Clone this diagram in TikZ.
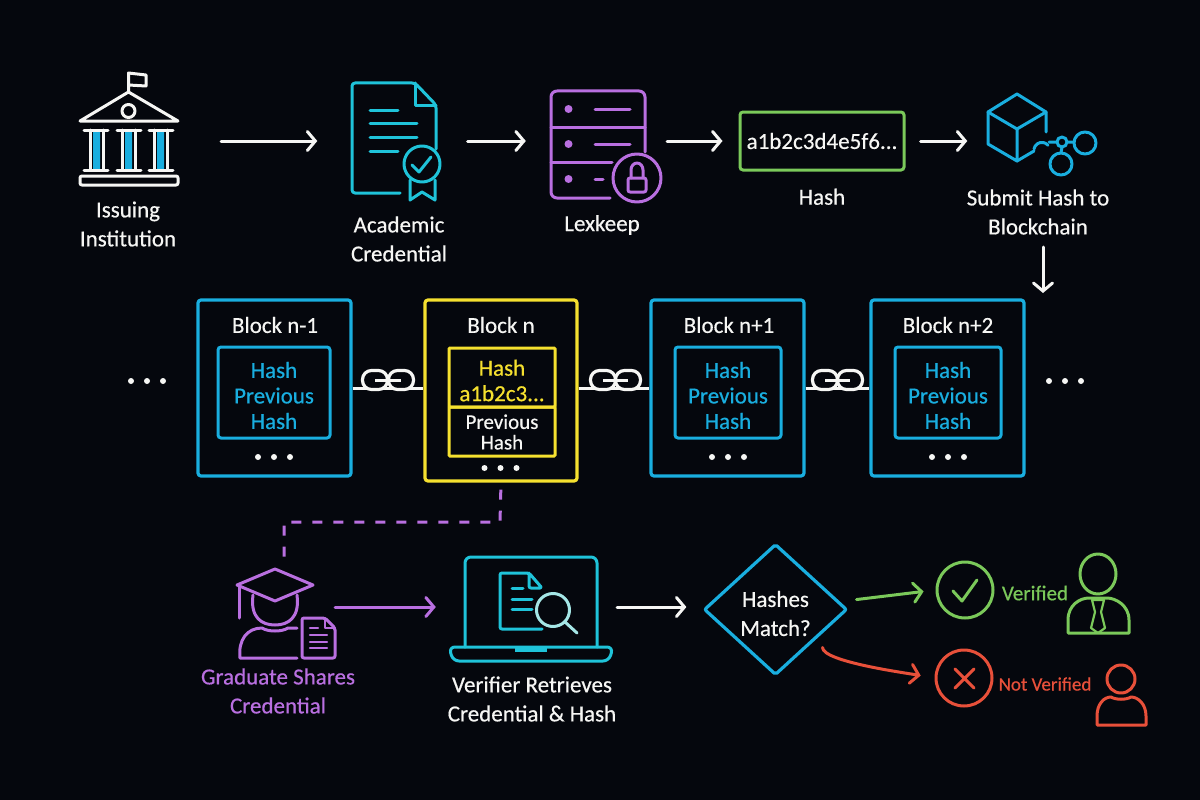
\documentclass[tikz,border=0pt]{standalone}
\usepackage{fontspec}
\setmainfont[FakeBold=0.5]{Carlito}
\usetikzlibrary{arrows.meta,positioning,shapes.geometric}

\definecolor{bgdark}{HTML}{05070D}
\definecolor{inkwhite}{HTML}{F6F6F4}
\definecolor{chainblue}{HTML}{19AEDF}
\definecolor{docteal}{HTML}{1FC3D9}
\definecolor{lensteal}{HTML}{A5E6E6}
\definecolor{lexpurple}{HTML}{B96FE0}
\definecolor{hashgreen}{HTML}{7BC95A}
\definecolor{blockyellow}{HTML}{F5E02F}
\definecolor{failred}{HTML}{E8503A}

\tikzset{
    >={Straight Barb[length=8pt,width=19pt,line cap=round]},
    label text/.style={text=inkwhite,font=\fontsize{23}{29}\selectfont,align=center,inner sep=0pt},
    icon box/.style={inner sep=0pt,minimum width=#1},
    icon/.style={line width=3pt,line cap=round,line join=round},
    flow/.style={->,line width=3pt,inkwhite,line cap=round},
    block/.style={draw=chainblue,line width=3.2pt,rounded corners=3pt,inner sep=0pt,minimum width=153pt,minimum height=176pt},
    inner block/.style={block,line width=3pt,minimum width=106pt,minimum height=91pt},
    inner text/.style={label text,text=chainblue,font=\fontsize{23}{25.5}\selectfont},
    link line/.style={line width=3pt,inkwhite},
    chain ring/.style={draw=inkwhite,fill=bgdark,line width=3.2pt,rounded corners=9pt,minimum width=25pt,minimum height=19pt,inner sep=0pt}
}

\newcommand{\threedots}[3]{%
    \fill[#3] (#1-16,#2) circle (3) (#1,#2) circle (3) (#1+16,#2) circle (3);}

\begin{document}
\begin{tikzpicture}[x=1pt,y=-1pt]
    \fill[bgdark] (0,0) rectangle (1200,800);
    \useasboundingbox (0,0) rectangle (1200,800);

    % top row
    \node[icon box=100pt] (institution) at (129,141) {};
    \node[icon box=85pt] (credential) at (394,141) {};
    \node[icon box=94pt] (lexkeep) at (598,141) {};
    \node[draw=hashgreen,line width=3pt,rounded corners=3pt,minimum width=164pt,minimum height=58pt,inner sep=0pt,
        text=inkwhite,font=\fontsize{23}{26}\selectfont] (hashval) at (822,141) {a1b2c3d4e5f6...};
    \node[icon box=105pt] (submit) at (1038,141) {};

    \node[label text] (institution_txt) at (128,224) {Issuing\\Institution};
    \node[label text] (credential_txt) at (399,239) {Academic\\Credential};
    \node[label text] (lexkeep_txt) at (602,225) {Lexkeep};
    \node[label text,below=17pt of hashval] (hash_txt) {Hash};
    \node[label text] (submit_txt) at (1038,212) {Submit Hash to\\Blockchain};

    % institution
    \draw[icon,inkwhite] (128.5,92) -- (128.5,73) -- (146,75) -- (146,86) -- (128.5,85);
    \draw[icon,inkwhite] (128.5,92) -- (80,121) -- (178,121) -- cycle;
    \draw[icon,inkwhite] (128.5,111) circle (6.5);
    \fill[chainblue] (93,131) rectangle (100,169) (125,131) rectangle (132,169) (157,131) rectangle (164,169);
    \draw[icon,inkwhite] (84,130) -- (108,130) (84,170) -- (108,170) (90,130) -- (90,170) (103,130) -- (103,170);
    \draw[icon,inkwhite] (117,130) -- (141,130) (117,170) -- (141,170) (122,130) -- (122,170) (135,130) -- (135,170);
    \draw[icon,inkwhite] (149,130) -- (173,130) (149,170) -- (173,170) (154,130) -- (154,170) (167,130) -- (167,170);
    \draw[icon,inkwhite,rounded corners=2pt] (80,176) rectangle (178,185);

    % credential
    \draw[icon,docteal,rounded corners=3pt] (400,193) -- (352,193) -- (352,83) -- (415,83) -- (436,105) -- (436,149);
    \draw[icon,docteal] (415,83) -- (415,105) -- (436,105);
    \draw[icon,docteal] (370,110) -- (398,110) (370,123) -- (417,123) (370,137) -- (417,137) (370,151) -- (398,151);
    \draw[icon,docteal] (422,164) circle (18);
    \draw[icon,docteal] (412,165) -- (419,172) -- (431,157);
    \draw[icon,docteal] (410,180) -- (410,200) -- (422,192) -- (435,200) -- (435,180);

    % lexkeep
    \draw[icon,lexpurple,rounded corners=6pt] (610,198) -- (551,198) -- (551,91) -- (645,91) -- (645,152);
    \draw[icon,lexpurple] (551,127) -- (645,127) (551,162) -- (612,162);
    \fill[lexpurple] (568.5,109) circle (4) (568.5,144) circle (4) (568.5,179) circle (4);
    \draw[icon,lexpurple] (595,109) -- (630,109) (595,144) -- (630,144) (595,179) -- (603,179);
    \draw[icon,lexpurple] (637,178) circle (24);
    \draw[icon,lexpurple,rounded corners=2pt] (628,178) rectangle (646,192);
    \draw[icon,lexpurple] (631,178) -- (631,170) arc[start angle=180,end angle=360,x radius=6,y radius=7] -- (643,178);

    % blockchain cube and nodes
    \draw[icon,chainblue] (1017,94) -- (1046,112) -- (1017,129) -- (988,112) -- cycle;
    \draw[icon,chainblue] (988,112) -- (988,144) -- (1017,161) -- (1017,129);
    \draw[icon,chainblue] (1046,112) -- (1046,132) (1017,161) -- (1034,151);
    \draw[icon,chainblue] (1034,149) arc[start angle=190,end angle=320,radius=8];
    \draw[icon,chainblue] (1062,142) circle (5) (1085,143) circle (11) (1061,164) circle (11);
    \draw[icon,chainblue] (1049,142) -- (1057,142) (1067,142) -- (1074,142) (1062,147) -- (1061,153);

    % middle row
    \node[block] (block_a) at (274.5,388) {};
    \node[block,draw=blockyellow,minimum width=152pt,minimum height=181pt] (block_n) at (501,390.5) {};
    \node[block] (block_b) at (727.5,388) {};
    \node[block] (block_c) at (947.5,388) {};

    \node[label text] (block_a_txt) at (275,325) {Block n-1};
    \node[label text] (block_n_txt) at (501,325) {Block n};
    \node[label text] (block_b_txt) at (729,325) {Block n+1};
    \node[label text] (block_c_txt) at (948,325) {Block n+2};

    \node[inner block,minimum width=112pt] (inner_a) at (274,392.5) {};
    \node[inner block] (inner_b) at (728,392.5) {};
    \node[inner block] (inner_c) at (948,392.5) {};
    \node[inner block,draw=blockyellow,rounded corners=1pt,minimum height=59pt] (inner_n) at (502,377.5) {};
    \node[inner block,draw=blockyellow,rounded corners=1pt,minimum height=49pt,below=-3pt of inner_n] (inner_prev) {};

    \node[inner text] (inner_a_txt) at (274,395.5) {Hash\\Previous\\Hash};
    \node[inner text] (inner_b_txt) at (728,395.5) {Hash\\Previous\\Hash};
    \node[inner text] (inner_c_txt) at (948,395.5) {Hash\\Previous\\Hash};
    \node[inner text,text=blockyellow] (inner_n_txt) at (502,380.5) {Hash\\a1b2c3...};
    \node[inner text,text=inkwhite,font=\fontsize{21}{20.5}\selectfont] (inner_prev_txt) at (502,432) {Previous\\Hash};

    \threedots{274}{457}{inkwhite}
    \threedots{500.5}{468}{inkwhite}
    \threedots{728}{457}{inkwhite}
    \threedots{948}{457}{inkwhite}
    \threedots{147}{381}{inkwhite}
    \threedots{1065}{381}{inkwhite}

    % chains between the blocks
    \draw[link line] (block_a.east) -- (block_n.west |- block_a.east);
    \draw[link line] (block_n.east |- block_b.west) -- (block_b.west);
    \draw[link line] (block_b.east) -- (block_c.west);
    \node[chain ring] (ring_a1) at (375,380) {};
    \node[chain ring] (ring_a2) at (401,380) {};
    \node[chain ring] (ring_b1) at (603,380) {};
    \node[chain ring] (ring_b2) at (628,380) {};
    \node[chain ring] (ring_c1) at (825,380) {};
    \node[chain ring] (ring_c2) at (850,380) {};
    \draw[link line] (ring_a1.center) -- (ring_a2.center);
    \draw[link line] (ring_b1.center) -- (ring_b2.center);
    \draw[link line] (ring_c1.center) -- (ring_c2.center);

    % bottom row
    \node[icon box=100pt,minimum height=98pt] (graduate) at (284,607) {};
    \node[icon box=164pt] (laptop) at (531,607) {};
    \node[diamond,draw=chainblue,line width=3.2pt,rounded corners=2pt,aspect=1.09,inner sep=0pt,minimum width=143pt,minimum height=131pt] (match) at (775.5,609.5) {};
    \node[label text] (match_txt) at (775.5,613.5) {Hashes\\Match?};
    \node[circle,draw=hashgreen,line width=3pt,minimum size=56pt,inner sep=0pt] (okmark) at (965,590) {};
    \node[circle,draw=failred,line width=3pt,minimum size=56pt,inner sep=0pt] (failmark) at (964,678) {};

    \node[label text,text=lexpurple] (graduate_txt) at (278,691) {Graduate Shares\\Credential};
    \node[label text] (laptop_txt) at (532,699) {Verifier Retrieves\\Credential \& Hash};
    \node[label text,text=hashgreen,font=\fontsize{21}{25}\selectfont] (ok_txt) at (1035,593) {Verified};
    \node[label text,text=failred,font=\fontsize{19}{25}\selectfont] (fail_txt) at (1045,684) {Not Verified};

    % graduate
    \draw[icon,lexpurple] (275,569) -- (313,585) -- (275,601) -- (237,585) -- cycle;
    \draw[icon,lexpurple] (239,587) -- (239,618);
    \draw[icon,lexpurple] (253,595) .. controls (250,618) and (262,625) .. (275,625) .. controls (288,625) and (300,618) .. (297,595);
    \draw[icon,lexpurple] (297,658) -- (240,658) .. controls (238,640) and (247,628) .. (262,628) .. controls (268,632) and (282,632) .. (288,628) -- (297,628);
    \draw[icon,lexpurple,rounded corners=2pt] (325,618) -- (302,618) -- (302,658) -- (335,658) -- (335,628) -- cycle;
    \draw[icon,lexpurple,line width=2.2pt] (325,618) -- (325,628) -- (335,628);
    \draw[icon,lexpurple,line width=2.2pt] (310,628) -- (318,628) (310,635) -- (327,635) (310,642) -- (327,642) (310,648) -- (327,648);

    % laptop
    \draw[icon,docteal,rounded corners=6pt] (465,647) -- (465,557) -- (597,557) -- (597,647);
    \draw[icon,docteal,rounded corners=6pt] (449,647) -- (613,647) -- (609,661) -- (453,661) -- cycle;
    \fill[docteal] (515,648) rectangle (547,652);
    \draw[icon,docteal,rounded corners=2pt] (542,629) -- (500,629) -- (500,573) -- (529,573) -- (542,588) -- (529,588) -- (529,573);
    \draw[icon,docteal] (512,588) -- (523,588) (512,599) -- (532,599) (512,609) -- (532,609);
    \draw[icon,lensteal] (553,610) circle (16.5) (565,622) -- (577,633);

    % verified person
    \draw[icon,hashgreen] (1098,574) ellipse (18 and 20);
    \draw[icon,hashgreen] (1068,633) -- (1129,633) -- (1129,620) .. controls (1129,605) and (1115,598) .. (1107,598) -- (1089,598) .. controls (1080,598) and (1068,605) .. (1068,620) -- cycle;
    \draw[icon,hashgreen,line width=2.2pt] (1092,600) -- (1104,600) -- (1101,612) -- (1105,628) -- (1098,633) -- (1091,628) -- (1095,612) -- cycle;

    % not verified person
    \draw[icon,failred] (1121,679) circle (14);
    \draw[icon,failred] (1097,725) -- (1146,725) -- (1146,716) .. controls (1146,704) and (1138,697) .. (1131,697) .. controls (1126,700) and (1116,700) .. (1111,697) .. controls (1104,697) and (1097,704) .. (1097,716) -- cycle;

    % check and cross
    \draw[icon,hashgreen] (953,591) -- (962,601) -- (977,580);
    \draw[icon,failred] (955,669) -- (974,688) (974,669) -- (955,688);

    % arrows
    \draw[flow,shorten <=42pt,shorten >=34pt] (institution) -- (credential);
    \draw[flow,shorten <=31pt,shorten >=25pt] (credential) -- (lexkeep);
    \draw[flow,shorten <=22pt,shorten >=16pt] (lexkeep) -- (hashval);
    \draw[flow,shorten <=15pt,shorten >=18pt] (hashval) -- (submit);
    \coordinate (drop_start) at (1043,247);
    \coordinate (drop_end) at (1043,293);
    \draw[flow] (drop_start) -- (drop_end);

    \draw[flow,lexpurple,shorten <=1pt,shorten >=13pt] (graduate.east) -- (laptop.west);
    \draw[flow,shorten <=4pt,shorten >=16pt] (laptop.east) -- (laptop.east -| match.west);
    \draw[flow,hashgreen,shorten <=8pt,shorten >=12pt] (match.east) ++(0,-9) -- (okmark.west);
    \draw[flow,failred,shorten <=14pt,shorten >=14pt] (match.-27) to[out=-90,in=170,looseness=.6] (failmark.west);

    % dashed proof path
    \coordinate (proof_bend) at (500,522);
    \draw[lexpurple,line width=3pt,dash pattern=on 10pt off 11pt,shorten <=7pt] (block_n.south) -- (proof_bend) -| (graduate.north);
\end{tikzpicture}
\end{document}
